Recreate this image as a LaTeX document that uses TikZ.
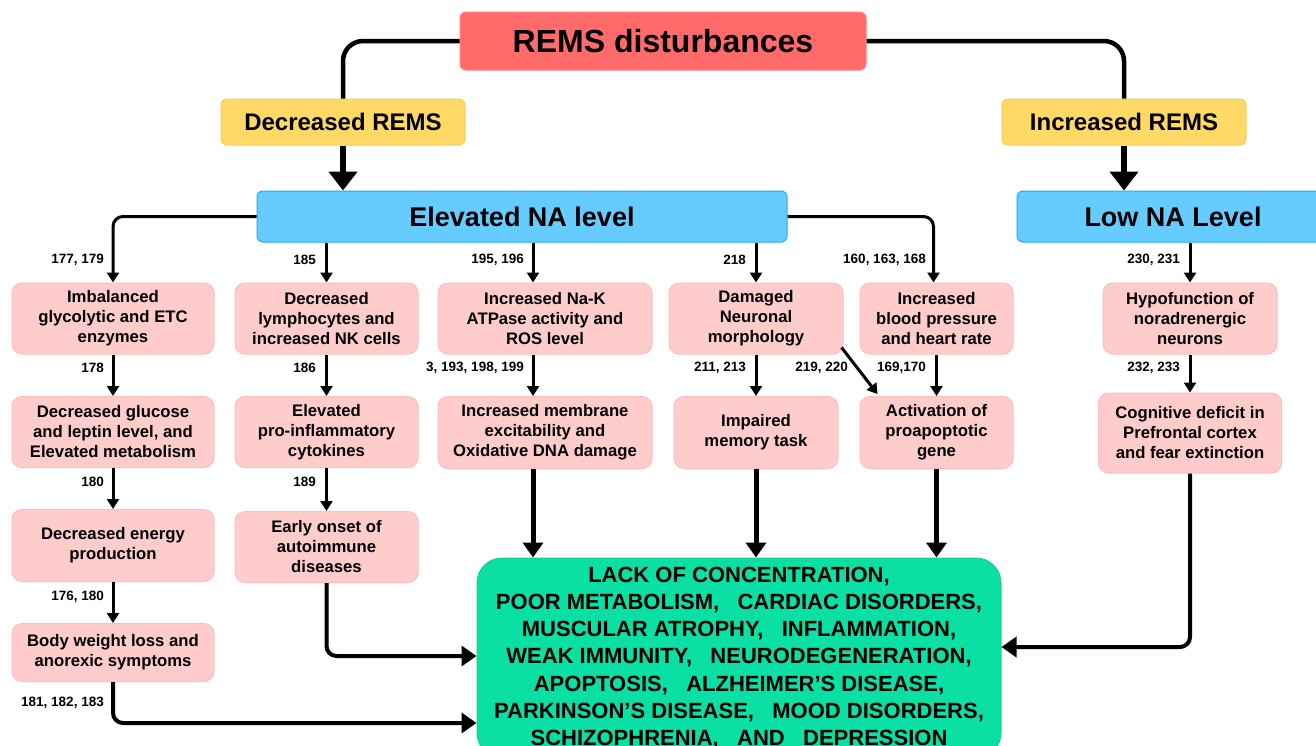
\documentclass[tikz,border=0pt]{standalone}
\usepackage{fontspec}
\setmainfont{Liberation Sans}
\usetikzlibrary{arrows.meta}
\definecolor{redF}{RGB}{255,107,107}
\definecolor{redD}{RGB}{255,130,130}
\definecolor{yelF}{RGB}{255,217,102}
\definecolor{yelD}{RGB}{250,205,90}
\definecolor{bluF}{RGB}{102,204,255}
\definecolor{bluD}{RGB}{30,175,235}
\definecolor{pinkF}{RGB}{255,204,204}
\definecolor{pinkD}{RGB}{255,188,188}
\definecolor{grnF}{RGB}{10,224,164}
\definecolor{grnD}{RGB}{30,205,150}
\newcommand{\gp}{\hspace{0.834em}}
\begin{document}
\begin{tikzpicture}[x=1pt,y=-1pt,
  box/.style={inner sep=0pt, align=center, line width=1pt},
  redbox/.style={box, rounded corners=6pt, fill=redF, draw=redD, font=\bfseries\fontsize{32}{36}\selectfont},
  yelbox/.style={box, rounded corners=6pt, fill=yelF, draw=yelD, font=\bfseries\fontsize{24}{28}\selectfont},
  blubox/.style={box, rounded corners=6pt, fill=bluF, draw=bluD, font=\bfseries\fontsize{27}{30}\selectfont},
  pinkbox/.style={box, rounded corners=10pt, fill=pinkF, draw=pinkD, font=\bfseries\fontsize{16.7}{20}\selectfont},
  grnbox/.style={box, rounded corners=25pt, fill=grnF, draw=grnD, font=\bfseries\fontsize{22}{27.2}\selectfont},
  lbl/.style={inner sep=0pt, anchor=east, font=\bfseries\fontsize{13.5}{15}\selectfont},
  topconn/.style={line width=4.5pt, rounded corners=20pt},
  bigarr/.style={line width=5.5pt, -{Triangle[width=28pt,length=19pt]}},
  thinarr/.style={line width=3pt, -{Triangle[width=12pt,length=10pt]}},
  garr/.style={line width=5pt, -{Triangle[width=20pt,length=15pt]}},
  sarr/.style={line width=4pt, rounded corners=10pt, -{Triangle[width=20pt,length=15pt]}}
]
\clip (0,0) rectangle (1316,745);
\fill[white] (0,0) rectangle (1316,745);

% top level
\node[redbox, minimum width=406pt, minimum height=58pt] (rems) at (663,41) {REMS disturbances};
\node[yelbox, minimum width=244pt, minimum height=46pt] (dec) at (343,122) {Decreased REMS};
\node[yelbox, minimum width=244pt, minimum height=46pt] (inc) at (1124,122) {Increased REMS};
\node[blubox, minimum width=530pt, minimum height=51pt] (ena) at (522,216.5) {Elevated NA level};
\node[blubox, minimum width=312pt, minimum height=51pt] (lna) at (1173,216.5) {Low NA Level};

% row 1
\node[pinkbox, minimum width=202pt, minimum height=71pt] (b1) at (113,318.5) {Imbalanced\\glycolytic and ETC\\enzymes};
\node[pinkbox, minimum width=183pt, minimum height=71pt] (b2) at (326.5,318.5) {Decreased\\lymphocytes and\\increased NK cells};
\node[pinkbox, minimum width=214pt, minimum height=71pt] (b3) at (545,318.5) {Increased Na-K\\ATPase activity and\\ROS level};
\node[pinkbox, minimum width=174pt, minimum height=71pt] (b4) at (756,318.5) {Damaged\\Neuronal\\morphology};
\node[pinkbox, minimum width=153pt, minimum height=71pt] (b5) at (936.5,318.5) {Increased\\blood pressure\\and heart rate};
\node[pinkbox, minimum width=174pt, minimum height=71pt] (b6) at (1190,318.5) {Hypofunction of\\noradrenergic\\neurons};

% row 2
\node[pinkbox, minimum width=202pt, minimum height=71pt] (c1) at (113,432) {Decreased glucose\\and leptin level, and\\Elevated metabolism};
\node[pinkbox, minimum width=183pt, minimum height=71pt] (c2) at (326.5,432) {Elevated\\pro-inflammatory\\cytokines};
\node[pinkbox, minimum width=214pt, minimum height=72pt] (c3) at (545,432.5) {Increased membrane\\excitability and\\Oxidative DNA damage};
\node[pinkbox, minimum width=164pt, minimum height=72pt] (c4) at (756,432.5) {Impaired\\memory task};
\node[pinkbox, minimum width=153pt, minimum height=72pt] (c5) at (936.5,432.5) {Activation of\\proapoptotic\\gene};
\node[pinkbox, minimum width=183pt, minimum height=80pt] (c6) at (1190,433) {Cognitive deficit in\\Prefrontal cortex\\and fear extinction};

% rows 3, 4
\node[pinkbox, minimum width=202pt, minimum height=72pt] (d1) at (113,545.5) {Decreased energy\\production};
\node[pinkbox, minimum width=183pt, minimum height=71pt] (d2) at (326.5,547) {Early onset of\\autoimmune\\diseases};
\node[pinkbox, minimum width=202pt, minimum height=58pt] (e1) at (113,652.5) {Body weight loss and\\anorexic symptoms};

% outcome
\node[grnbox, minimum width=524pt, minimum height=200pt] (out) at (739,658) {LACK OF CONCENTRATION,\\POOR METABOLISM,\gp CARDIAC DISORDERS,\\MUSCULAR ATROPHY,\gp INFLAMMATION,\\WEAK IMMUNITY,\gp NEURODEGENERATION,\\APOPTOSIS,\gp ALZHEIMER’S DISEASE,\\PARKINSON’S DISEASE,\gp MOOD DISORDERS,\\SCHIZOPHRENIA,\gp AND\gp DEPRESSION};

% helper coordinates
\coordinate (b3top) at ([xshift=-12pt]b3.north);
\coordinate (b3bot) at ([xshift=-12pt]b3.south);
\coordinate (c3top) at ([xshift=-12pt]c3.north);
\coordinate (c3bot) at ([xshift=-12pt]c3.south);
\coordinate (b5top) at ([xshift=-3pt]b5.north);
\coordinate (b4diag) at ([xshift=-2pt,yshift=7pt]b4.south east);
\coordinate (c5diag) at ([xshift=18pt,yshift=2pt]c5.north west);

% connectors top
\draw[topconn] (rems.west) -| (dec.north);
\draw[topconn] (rems.east) -| (inc.north);
\draw[bigarr] (dec.south) -- (dec.south |- ena.north);
\draw[bigarr] (inc.south) -- (inc.south |- lna.north);

% branches from NA level
\draw[thinarr, rounded corners=10pt] (ena.west) -| (b1.north);
\draw[thinarr] (b2.north |- ena.south) -- (b2.north);
\draw[thinarr] (b3top |- ena.south) -- (b3top);
\draw[thinarr] (b4.north |- ena.south) -- (b4.north);
\draw[thinarr, rounded corners=10pt] (ena.east) -| (b5top);
\draw[thinarr] (b6.north |- lna.south) -- (b6.north);

% row 1 -> row 2
\draw[thinarr] (b1.south) -- (c1.north);
\draw[thinarr] (b2.south) -- (c2.north);
\draw[thinarr] (b3bot) -- (c3top);
\draw[thinarr] (b4.south) -- (c4.north);
\draw[thinarr] (b4diag) -- (c5diag);
\draw[thinarr] (b5.south) -- (c5.north);
\draw[thinarr] (b6.south) -- (c6.north);
\draw[thinarr] (c1.south) -- (d1.north);
\draw[thinarr] (c2.south) -- (d2.north);
\draw[thinarr] (d1.south) -- (e1.north);

% into outcome
\draw[garr] (c3bot) -- (c3bot |- out.north);
\draw[garr] (c4.south) -- (c4.south |- out.north);
\draw[garr] (c5.south) -- (c5.south |- out.north);
\draw[sarr] (d2.south) |- ([yshift=2pt]out.west);
\draw[sarr] (e1.south) |- ([yshift=-65pt]out.west);
\draw[sarr] (c6.south) |- ([yshift=11pt]out.east);

% reference labels
\node[lbl] (l1) at (104,260) {177, 179};
\node[lbl] (l2) at (316,260) {185};
\node[lbl] (l3) at (524,260) {195, 196};
\node[lbl] (l4) at (746,260) {218};
\node[lbl] (l5) at (926,260) {160, 163, 168};
\node[lbl] (l6) at (1180,260) {230, 231};
\node[lbl] (l7) at (104,368) {178};
\node[lbl] (l8) at (316,368) {186};
\node[lbl] (l9) at (524,368) {3, 193, 198, 199};
\node[lbl] (l10) at (746,368) {211, 213};
\node[lbl] (l11) at (848,368) {219, 220};
\node[lbl] (l12) at (926,368) {169,170};
\node[lbl] (l13) at (1180,368) {232, 233};
\node[lbl] (l14) at (104,482) {180};
\node[lbl] (l15) at (316,482) {189};
\node[lbl] (l16) at (104,597) {176, 180};
\node[lbl] (l17) at (104,703) {181, 182, 183};
\end{tikzpicture}
\end{document}
